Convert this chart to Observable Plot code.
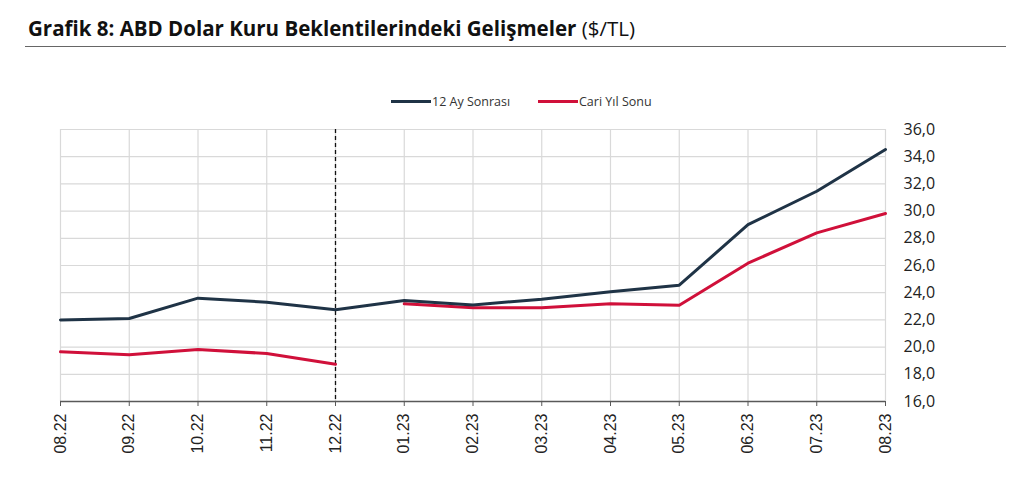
<!DOCTYPE html>
<html>
<head>
<meta charset="utf-8">
<script src="https://cdn.jsdelivr.net/npm/d3@7"></script>
<script src="https://cdn.jsdelivr.net/npm/@observablehq/plot@0.6"></script>
<style>
  html, body { margin: 0; padding: 0; background: #fff; }
  #wrap { position: relative; width: 1024px; height: 484px; overflow: hidden; font-family: "Open Sans", sans-serif; }
  #title { position: absolute; left: 28px; top: 14px; font-size: 20.5px; color: #111; white-space: nowrap; }
  #title b { font-weight: 700; }
  #title span { font-weight: 400; }
  #rule { position: absolute; left: 25px; top: 46px; width: 981px; height: 0; border-top: 1.5px solid #666; }
  .item { position: absolute; top: 92px; height: 18px; display: flex; align-items: center; font-size: 12.5px; color: #333; white-space: nowrap; }
  .sw { width: 40px; height: 3px; margin-right: 1px; }
  #chart { position: absolute; left: 0; top: 110px; }
</style>
</head>
<body>
<div id="wrap">
  <div id="title"><b>Grafik 8: ABD Dolar Kuru Beklentilerindeki Gelişmeler</b> <span>($/TL)</span></div>
  <div id="rule"></div>
  <div id="chart"></div>
</div>
<script>
const months = ["08.22","09.22","10.22","11.22","12.22","01.23","02.23","03.23","04.23","05.23","06.23","07.23","08.23"];
const aySonrasi = [22.0, 22.1, 23.6, 23.3, 22.75, 23.43, 23.1, 23.52, 24.07, 24.55, 29.0, 31.46, 34.53];
const cariYilSonu = [19.65, 19.43, 19.82, 19.53, 18.74, 23.18, 22.9, 22.89, 23.18, 23.08, 26.17, 28.4, 29.82];
const yTicks = [16, 18, 20, 22, 24, 26, 28, 30, 32, 34, 36];
const breakMonth = ["12.22"];
const seriesNames = ["12 Ay Sonrası", "Cari Yıl Sonu"];
const seriesColors = ["#1f3346", "#d0103a"];
const legendLeft = [391, 538];

const blueData = months.map((m, i) => ({month: m, value: aySonrasi[i]}));
const redData = months.map((m, i) => ({month: m, value: cariYilSonu[i], seg: m.slice(3)}));

const wrap = document.getElementById("wrap");
seriesNames.forEach((n, i) => {
  const it = document.createElement("div");
  it.className = "item";
  it.style.left = legendLeft[i] + "px";
  it.innerHTML = `<div class="sw" style="background:${seriesColors[i]}"></div><div>${n}</div>`;
  wrap.appendChild(it);
});

const fmt = d => d.toFixed(1).replace(".", ",");

const chart = Plot.plot({
  width: 1024,
  height: 374,
  marginTop: 19,
  marginBottom: 83,
  marginLeft: 60,
  marginRight: 139,
  style: { background: "transparent" },
  x: { type: "point", domain: months, padding: 0, round: false, label: null },
  y: { domain: [16, 36], label: null },
  marks: [
    Plot.ruleY(yTicks, { stroke: "#d9d9d9", strokeWidth: 1.2 }),
    Plot.ruleX(months, { stroke: "#d9d9d9", strokeWidth: 1.2 }),
    Plot.ruleX(breakMonth, { stroke: "#111", strokeDasharray: "4,3", strokeWidth: 1.3 }),
    Plot.ruleY([16], { stroke: "#595959", strokeWidth: 1.6 }),
    Plot.axisX({ ticks: months, tickRotate: -90, tickSize: 5, tickPadding: 7, fontSize: 16, fontFamily: "Liberation Sans, Arial, sans-serif", stroke: "#595959", fill: "#222", label: null }),
    Plot.axisY({ anchor: "right", ticks: yTicks, tickSize: 0, tickPadding: 18, tickFormat: fmt, fontSize: 16, fontFamily: "Open Sans, sans-serif", fill: "#222", label: null }),
    Plot.line(redData, { x: "month", y: "value", z: "seg", stroke: seriesColors[1], strokeWidth: 3 }),
    Plot.line(blueData, { x: "month", y: "value", stroke: seriesColors[0], strokeWidth: 3 })
  ]
});
document.getElementById("chart").appendChild(chart);
</script>
</body>
</html>
